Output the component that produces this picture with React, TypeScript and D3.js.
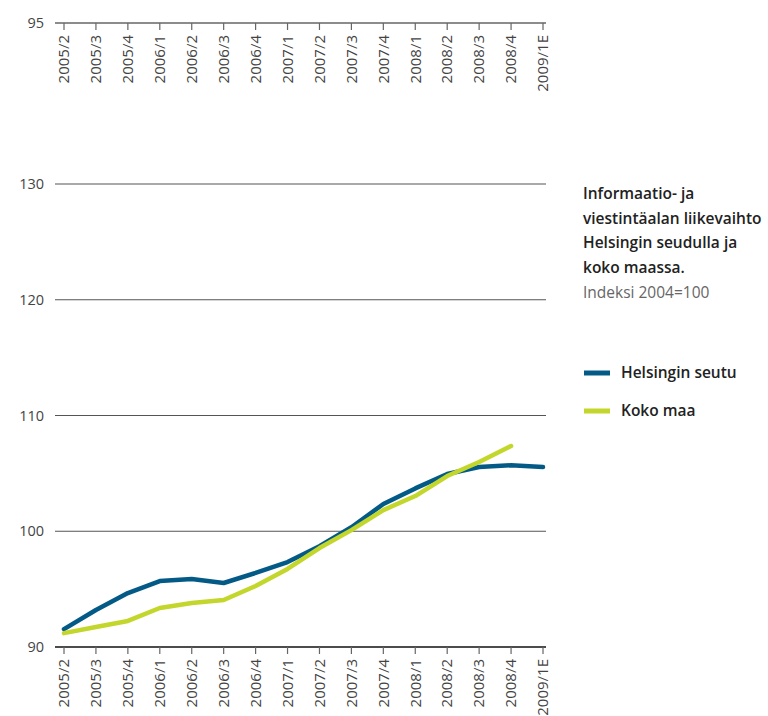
import React, { useEffect, useRef } from "react";
import * as d3 from "d3";

const categories = ["2005/2","2005/3","2005/4","2006/1","2006/2","2006/3","2006/4","2007/1","2007/2","2007/3","2007/4","2008/1","2008/2","2008/3","2008/4","2009/1E"];
const helsinki = [91.55,93.2,94.66,95.7,95.87,95.53,96.4,97.34,98.7,100.35,102.35,103.7,104.94,105.55,105.7,105.55];
const kokoMaa = [91.2,91.73,92.25,93.37,93.8,94.06,95.27,96.74,98.55,100.1,101.83,103.04,104.77,105.98,107.36];
const yTicks = [90,100,110,120,130];
const topLabel = "95";
const titleLines = ["Informaatio- ja","viestintäalan liikevaihto","Helsingin seudulla ja","koko maassa."];
const subtitle = "Indeksi 2004=100";
const seriesNames = ["Helsingin seutu","Koko maa"];
const colors = ["#045a86","#c3d62c"];

const FONT = "'Open Sans', 'Noto Sans', sans-serif";

export default function App() {
  const ref = useRef<SVGSVGElement>(null);
  useEffect(() => {
    const svg = d3.select(ref.current);
    svg.selectAll("*").remove();
    const x = d3.scalePoint().domain(categories).range([64, 543]);
    const y = d3.scaleLinear().domain([90, 130]).range([647, 184]);
    const x0 = 55, x1 = 546;

    const g = svg.append("g");
    yTicks.filter(t => t !== 90).forEach(t => {
      g.append("line").attr("x1", x0).attr("x2", x1).attr("y1", y(t)).attr("y2", y(t))
        .attr("stroke", "#555").attr("stroke-width", 1.2);
    });
    yTicks.forEach(t => {
      g.append("text").attr("x", 44).attr("y", y(t)).attr("dy", "0.35em")
        .attr("text-anchor", "end").attr("font-family", FONT).attr("font-size", 14.5)
        .attr("fill", "#444").text(String(t));
    });

    const topY = 23;
    g.append("text").attr("x", 44).attr("y", topY).attr("dy", "0.35em")
      .attr("text-anchor", "end").attr("font-family", FONT).attr("font-size", 14.5)
      .attr("fill", "#444").text(topLabel);
    const drawAxis = (yy: number, lineColor: string) => {
      const ax = svg.append("g").attr("transform", `translate(0,${yy})`);
      ax.append("line").attr("x1", x0).attr("x2", x1).attr("y1", 0).attr("y2", 0)
        .attr("stroke", lineColor).attr("stroke-width", 1.5);
      categories.forEach(c => {
        const xx = x(c)!;
        ax.append("line").attr("x1", xx).attr("x2", xx).attr("y1", 0).attr("y2", 7)
          .attr("stroke", "#666").attr("stroke-width", 1.2);
        ax.append("text").attr("transform", `translate(${xx},12) rotate(-90)`)
          .attr("dy", "0.35em").attr("text-anchor", "end")
          .attr("font-family", FONT).attr("font-size", 15).attr("fill", "#444").text(c);
      });
    };
    drawAxis(topY, "#666");
    drawAxis(647, "#111");

    const line = d3.line<number>().x((_, i) => x(categories[i])!).y(d => y(d));
    [helsinki, kokoMaa].forEach((data, i) => {
      svg.append("path").attr("d", line(data)!).attr("fill", "none")
        .attr("stroke", colors[i]).attr("stroke-width", 4.5)
        .attr("stroke-linejoin", "round").attr("stroke-linecap", "round");
    });

    const t = svg.append("g");
    titleLines.forEach((l, i) => {
      t.append("text").attr("x", 583).attr("y", 199 + i * 24.5)
        .attr("font-family", FONT).attr("font-size", 15.5).attr("font-weight", 600)
        .attr("fill", "#222").text(l);
    });
    t.append("text").attr("x", 583).attr("y", 298).attr("font-family", FONT)
      .attr("font-size", 15.5).attr("fill", "#666").text(subtitle);

    seriesNames.forEach((n, i) => {
      const yy = 373 + i * 38;
      t.append("line").attr("x1", 584).attr("x2", 610).attr("y1", yy).attr("y2", yy)
        .attr("stroke", colors[i]).attr("stroke-width", 5);
      t.append("text").attr("x", 621).attr("y", yy).attr("dy", "0.35em")
        .attr("font-family", FONT).attr("font-size", 15.5).attr("font-weight", 600)
        .attr("fill", "#222").text(n);
    });
  }, []);
  return (
    <svg ref={ref} width={768} height={716}
      style={{ position: "absolute", left: 0, top: 0, background: "#fff" }} />
  );
}
